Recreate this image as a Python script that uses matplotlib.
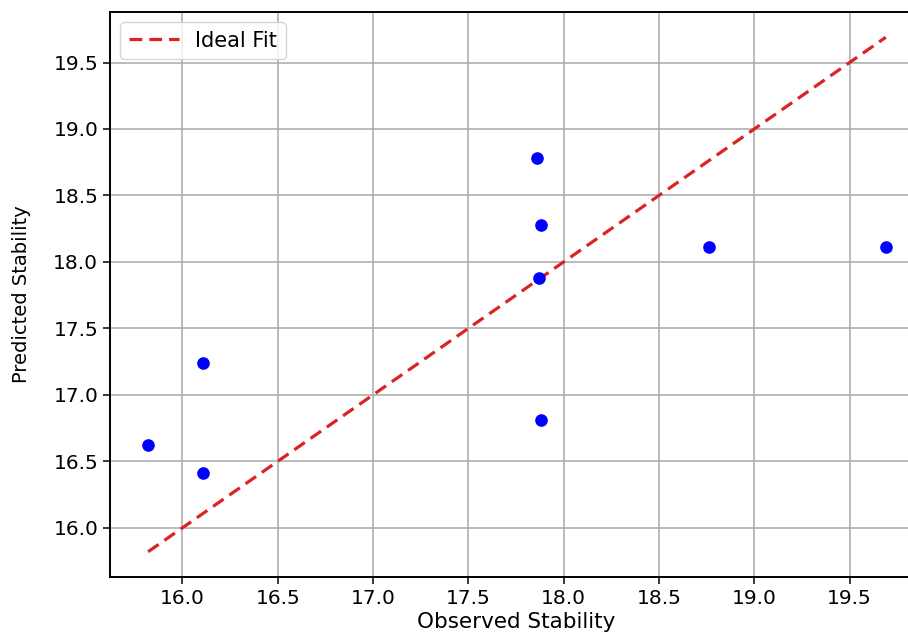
import numpy as np
import matplotlib
matplotlib.use("Agg")
import matplotlib.pyplot as plt

# observed vs predicted values
observed = [15.82, 16.11, 16.11, 17.86, 17.88, 17.87, 17.88, 18.76, 19.69]
predicted = [16.62, 17.24, 16.41, 18.78, 18.28, 17.88, 16.81, 18.11, 18.11]

x_ticks = [16.0, 16.5, 17.0, 17.5, 18.0, 18.5, 19.0, 19.5]
y_ticks = [16.0, 16.5, 17.0, 17.5, 18.0, 18.5, 19.0, 19.5]

plt.rcParams['font.size'] = 14

fig = plt.figure(figsize=(9.08, 6.36), dpi=100)
# the reference is a crop: the right spine sits just outside the picture
ax = fig.add_axes([110/908, 59/636, 812/908, 565/636])

ax.scatter(observed, predicted, color='blue', s=65, zorder=3)
lo, hi = min(observed), max(observed)
ax.plot([lo, hi], [lo, hi], '--', color='#dd2222', lw=2.3, dashes=(4, 2.2), label='Ideal Fit')

ax.set_xlim(15.62, 19.88)
ax.set_ylim(15.63, 19.88)
ax.set_xticks(x_ticks)
ax.set_yticks(y_ticks)
ax.tick_params(labelsize=14.5, length=5, width=1.1)
ax.set_xlabel('Observed Stability', fontsize=15.5, labelpad=3)
ax.set_ylabel('Predicted Stability', fontsize=14, labelpad=16)
ax.grid(True, color='#a8a8a8', lw=1.1)
ax.set_axisbelow(True)
for s in ax.spines.values():
    s.set_linewidth(1.4)
ax.legend(loc='upper left', fontsize=15, handlelength=2.4)

fig.savefig('out.png', dpi=100)
